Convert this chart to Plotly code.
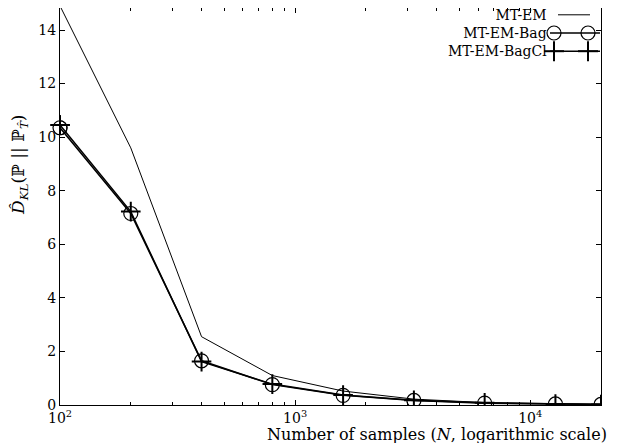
import plotly.graph_objects as go
import math

# ---- data ----
samples = [100, 200, 400, 800, 1600, 3200, 6400, 12800, 20000]
mt_em = [14.9, 9.6, 2.55, 1.1, 0.52, 0.22, 0.09, 0.05, 0.03]
mt_em_bag = [10.35, 7.15, 1.65, 0.76, 0.36, 0.17, 0.07, 0.04, 0.02]
mt_em_bagcl = [10.45, 7.22, 1.62, 0.78, 0.37, 0.18, 0.08, 0.04, 0.02]
series_names = ["MT-EM", "MT-EM-Bag", "MT-EM-BagCl"]
x_tickvals = [100, 1000, 10000]
x_ticktext = ["10<sup>2</sup>", "10<sup>3</sup>", "10<sup>4</sup>"]
x_minor = [200, 300, 400, 500, 600, 700, 800, 900,
           2000, 3000, 4000, 5000, 6000, 7000, 8000, 9000]
y_ticks = [0, 2, 4, 6, 8, 10, 12, 14]

# page body has an 8px margin; compensate so the screenshot lines up
OFF = 8
W, H = 628 - OFF, 443 - OFF
L, T = 60 - OFF, 0
PW = 601 - 60
PH = (405 - OFF) - T
R, B = W - L - PW, H - T - PH
Y_PER_UNIT = (405 - 30) / 14.0
Y_MAX = PH / Y_PER_UNIT
FONT = "DejaVu Serif"
LEG_FONT = 14
LEG_STEP = 1.3 * LEG_FONT

def px(xp):
    return (xp - OFF - L) / PW

def py(yp):
    return (T + PH - (yp - OFF)) / PH

fig = go.Figure()

fig.add_trace(go.Scatter(x=samples, y=mt_em, mode="lines",
                         line=dict(color="black", width=1),
                         name=series_names[0], showlegend=False))
fig.add_trace(go.Scatter(x=samples, y=mt_em_bag, mode="lines+markers",
                         line=dict(color="black", width=1.5),
                         marker=dict(symbol="circle-open", size=14, color="black",
                                     line=dict(width=1.2, color="black")),
                         name=series_names[1], showlegend=False, cliponaxis=True))
fig.add_trace(go.Scatter(x=samples, y=mt_em_bagcl, mode="lines+markers",
                         line=dict(color="black", width=1.5),
                         marker=dict(symbol="cross-thin", size=14, color="black",
                                     line=dict(width=2, color="black")),
                         name=series_names[2], showlegend=False, cliponaxis=True))
fig.add_trace(go.Scatter(x=samples[:1], y=mt_em_bag[:1], mode="markers",
                         marker=dict(symbol="circle-open", size=14, color="black",
                                     line=dict(width=1.2, color="black")),
                         showlegend=False, cliponaxis=False, hoverinfo="skip"))
fig.add_trace(go.Scatter(x=samples[:1], y=mt_em_bagcl[:1], mode="markers",
                         marker=dict(symbol="cross-thin", size=14, color="black",
                                     line=dict(width=2, color="black")),
                         showlegend=False, cliponaxis=False, hoverinfo="skip"))

shapes = []
annotations = []

# legend block: right-aligned names, samples to the right (gnuplot style)
mid_row = 33
rows_y = [mid_row - LEG_STEP, mid_row, mid_row + LEG_STEP]
text_right = 549
annotations.append(dict(xref="paper", yref="paper", x=px(text_right), y=py(mid_row),
                        text="<br>".join(series_names), align="right",
                        showarrow=False, xanchor="right", yanchor="middle",
                        font=dict(family=FONT, size=LEG_FONT, color="black")))
shapes.append(dict(type="line", xref="paper", yref="paper",
                   x0=px(558), x1=px(590), y0=py(rows_y[0]), y1=py(rows_y[0]),
                   line=dict(color="black", width=1)))
for i in (1, 2):
    yy = py(rows_y[i])
    shapes.append(dict(type="line", xref="paper", yref="paper",
                       x0=px(550), x1=px(600), y0=yy, y1=yy,
                       line=dict(color="black", width=1.5)))
    for xc in (554, 588):
        if i == 1:
            shapes.append(dict(type="circle", xref="paper", yref="paper",
                               xsizemode="pixel", ysizemode="pixel",
                               xanchor=px(xc), yanchor=yy,
                               x0=-7, x1=7, y0=-7, y1=7,
                               line=dict(color="black", width=1.2)))
        else:
            shapes.append(dict(type="line", xref="paper", yref="paper",
                               xsizemode="pixel", ysizemode="pixel",
                               xanchor=px(xc), yanchor=yy,
                               x0=0, x1=0, y0=-10, y1=10,
                               line=dict(color="black", width=2)))
            shapes.append(dict(type="line", xref="paper", yref="paper",
                               xsizemode="pixel", ysizemode="pixel",
                               xanchor=px(xc), yanchor=yy,
                               x0=-10, x1=10, y0=0, y1=0,
                               line=dict(color="black", width=2)))

annotations.append(dict(xref="paper", yref="paper", x=px(609), y=py(434),
                        text="Number of samples (<i>N</i>, logarithmic scale)",
                        showarrow=False, xanchor="right", yanchor="middle",
                        font=dict(family=FONT, size=16, color="black")))
annotations.append(dict(xref="paper", yref="paper", x=px(20), y=py(165),
                        text="<i>D̂</i><sub><i>KL</i></sub>(ℙ || ℙ<sub><i>T̂</i></sub>)",
                        showarrow=False, textangle=-90, xanchor="center", yanchor="middle",
                        font=dict(family=FONT, size=17, color="black")))

fig.update_layout(
    width=W, height=H,
    margin=dict(l=L, r=R, t=T, b=B, pad=0, autoexpand=False),
    paper_bgcolor="white", plot_bgcolor="white",
    font=dict(family=FONT, size=14, color="black"),
    showlegend=False,
    shapes=shapes, annotations=annotations,
    xaxis=dict(type="log", range=[math.log10(samples[0]), math.log10(samples[-1])],
               tickmode="array", tickvals=x_tickvals, ticktext=x_ticktext,
               ticks="inside", ticklen=5, tickwidth=1, tickcolor="black",
               showline=True, linecolor="black", linewidth=1, mirror="ticks",
               showgrid=False, zeroline=False, automargin=False,
               minor=dict(tickmode="array", tickvals=x_minor, ticks="inside",
                          ticklen=3, tickwidth=1, tickcolor="black", showgrid=False),
               tickfont=dict(family=FONT, size=14)),
    yaxis=dict(range=[0, Y_MAX], tickmode="array", tickvals=y_ticks,
               ticks="inside", ticklen=5, tickwidth=1, tickcolor="black",
               showline=True, linecolor="black", linewidth=1, mirror="ticks",
               showgrid=False, zeroline=False, automargin=False,
               tickfont=dict(family=FONT, size=14)),
)

fig.write_html("out.html")
